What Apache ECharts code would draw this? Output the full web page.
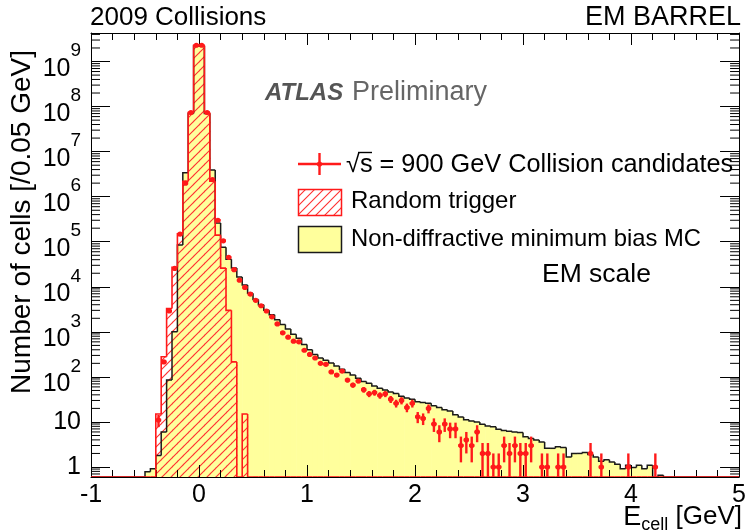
<!DOCTYPE html>
<html><head><meta charset="utf-8">
<script src="https://cdn.jsdelivr.net/npm/echarts@6/dist/echarts.min.js"></script>
<style>html,body{margin:0;padding:0;background:#fff}#chart{width:749px;height:532px}</style>
</head><body><div id="chart"></div>
<script>
// ---------------- data ----------------
const binCenters = [
  -0.475,-0.425,-0.375,-0.325,-0.275,-0.225,-0.175,-0.125,-0.075,-0.025,
  0.025,0.075,0.125,0.175,0.225,0.275,0.325,0.375,0.425,0.475,
  0.525,0.575,0.625,0.675,0.725,0.775,0.825,0.875,0.925,0.975,
  1.025,1.075,1.125,1.175,1.225,1.275,1.325,1.375,1.425,1.475,
  1.525,1.575,1.625,1.675,1.725,1.775,1.825,1.875,1.925,1.975,
  2.025,2.075,2.125,2.175,2.225,2.275,2.325,2.375,2.425,2.475,
  2.525,2.575,2.625,2.675,2.725,2.775,2.825,2.875,2.925,2.975,
  3.025,3.075,3.125,3.175,3.225,3.275,3.325,3.375,3.425,3.475,
  3.525,3.575,3.625,3.675,3.725,3.775,3.825,3.875,3.925,3.975,
  4.025,4.075,4.125,4.175,4.225,4.275,4.325
];
// Non-diffractive minimum bias MC
const mcCounts = [
  0.78,0.92,1.8,6,85,1000,85000,3.4e6,7.0e7,2.2e9,
  2.2e9,7.0e7,3.9e6,2.6e5,7.5e4,4.1e4,2.6e4,1.66e4,1.1e4,7200,
  5200,4000,3000,2400,1860,1450,1150,890,720,525,
  400,316,263,234,204,174,148,126,110,93,
  79,72,63,56,51,46,43,37,34,32,
  28,27,26,23,21,18.6,17.4,14.5,12.9,11.2,
  10.5,10,8.9,8.1,7.8,6.9,6.5,6.2,6.0,5.8,
  4.7,4.3,4.0,3.6,2.6,2.6,2.8,2.7,1.66,2.0,
  2.0,2.1,1.9,1.66,1.35,1.45,1.29,1.15,0.91,1.1,
  0.98,1.1,0.91,1.1,0,0.66,0
];
// Random trigger (bins beyond the list are empty)
const rtCounts = [
  0,0,15,280,3300,27000,1.5e5,2.2e6,7.4e7,2.3e9,
  2.3e9,7.4e7,2.2e6,1.4e5,2.6e4,3000,215,0,15,0
];
// sqrt(s) = 900 GeV collision candidates
const dataCounts = [
  0,0,11,215,2900,25600,1.48e5,2.0e6,7.4e7,2.3e9,
  2.3e9,7.4e7,2.4e6,3.0e5,1.05e5,4.5e4,2.4e4,1.4e4,9700,6900,
  5000,3800,2900,2150,1500,950,760,620,600,390,
  316,263,200,190,129,110,135,85,66,81,
  52,42,45,39,42,32,26,30,21,26,
  13,12,20,9,6,9,7,7,3,4,
  3,6,2,2,1,1,3,2,3,2,
  2,3,0,1,1,0,1,1,0,0,
  0,0,2,0,1,0,0,0,0,1,
  0,0,0,0,1,0,0
];
const xTickLabels = ['-1','0','1','2','3','4','5'];
const yDecades = [0,1,2,3,4,5,6,7,8,9];

// ---------------- chart ----------------
const X_MIN = -1, X_MAX = 5, Y_MIN = 0.6, Y_MAX = 4.3e9, BIN_W = 0.05;
const FONT = '"Liberation Sans", Arial, Helvetica, sans-serif';
const RED = '#ff1a1a', YELLOW = '#ffff9c';

const yMinorTicks = [];
for (let n = -1; n <= 9; n++) for (let k = 2; k <= 9; k++) {
  const v = k * Math.pow(10, n);
  if (v > Y_MIN && v < Y_MAX) yMinorTicks.push(v);
}

function makeHatch() {
  const s = 9, c = document.createElement('canvas');
  c.width = s; c.height = s;
  const g = c.getContext('2d');
  g.strokeStyle = '#ff3030'; g.lineWidth = 1.1;
  g.beginPath();
  g.moveTo(0, s); g.lineTo(s, 0);
  g.moveTo(-2, 2); g.lineTo(2, -2);
  g.moveTo(s - 2, s + 2); g.lineTo(s + 2, s - 2);
  g.stroke();
  return c;
}
const hatch = { image: makeHatch(), repeat: 'repeat' };

function yPix(api, v) { return api.coord([0, v > Y_MIN ? v : Y_MIN])[1]; }
function xPix(api, x) { return api.coord([x, 1])[0]; }

function fillSeries(name, counts, fill, z) {
  return {
    type: 'custom', name, z, clip: true, silent: true,
    data: binCenters.map((c, i) => [c, counts[i] || 0]),
    renderItem(params, api) {
      const c = api.value(0), v = api.value(1);
      if (!(v > 0)) return null;
      const x0 = xPix(api, c - BIN_W / 2), x1 = xPix(api, c + BIN_W / 2);
      const yt = yPix(api, v), yb = yPix(api, Y_MIN);
      return { type: 'rect', shape: { x: x0, y: yt, width: x1 - x0 + 0.6, height: yb - yt },
               style: { fill: fill, stroke: null } };
    }
  };
}

function outlineSeries(name, counts, color, width, z) {
  const last = binCenters.length - 1;
  return {
    type: 'custom', name, z, clip: true, silent: true,
    data: binCenters.map((c, i) => [c, counts[i] || 0, i > 0 ? (counts[i - 1] || 0) : 0, i]),
    renderItem(params, api) {
      const c = api.value(0), v = api.value(1), pv = api.value(2), i = api.value(3);
      const x0 = xPix(api, c - BIN_W / 2), x1 = xPix(api, c + BIN_W / 2);
      const yb = yPix(api, Y_MIN);
      const y = v > 0 ? yPix(api, v) : yb, yp = pv > 0 ? yPix(api, pv) : yb;
      const pts = [[x0, yp], [x0, y], [x1, y]];
      if (i === last) pts.push([x1, yb], [xPix(api, X_MAX), yb]);
      if (i === 0) pts.unshift([xPix(api, X_MIN), yb]);
      return { type: 'polyline', shape: { points: pts },
               style: { stroke: color, lineWidth: width, fill: null, lineJoin: 'miter' } };
    }
  };
}

const dataSeries = {
  type: 'custom', name: 'data', z: 12, clip: true, silent: true,
  data: binCenters.map((c, i) => [c, dataCounts[i]]),
  renderItem(params, api) {
    const c = api.value(0), n = api.value(1);
    if (!(n > 0)) return null;
    const e = Math.sqrt(n);
    const x = xPix(api, c), y = yPix(api, n);
    const xl = xPix(api, c - BIN_W / 2), xr = xPix(api, c + BIN_W / 2);
    const yh = yPix(api, n + e), yl = (n - e) > Y_MIN ? yPix(api, n - e) : yPix(api, Y_MIN);
    return { type: 'group', children: [
      { type: 'line', shape: { x1: x, y1: yh, x2: x, y2: yl }, style: { stroke: RED, lineWidth: 2.4 } },
      { type: 'line', shape: { x1: xl, y1: y, x2: xr, y2: y }, style: { stroke: RED, lineWidth: 2.6 } },
      { type: 'circle', shape: { cx: x, cy: y, r: 2.6 }, style: { fill: RED } }
    ] };
  }
};

const minorTickSeries = {
  type: 'custom', name: 'ylogticks', z: 10, silent: true, clip: false,
  data: yMinorTicks.map(v => [X_MIN, v]),
  renderItem(params, api) {
    const v = api.value(1);
    const y = api.coord([X_MIN, v])[1];
    const xl = xPix(api, X_MIN), xr = xPix(api, X_MAX);
    return { type: 'group', children: [
      { type: 'line', shape: { x1: xl, y1: y, x2: xl + 9, y2: y }, style: { stroke: '#000', lineWidth: 1 } },
      { type: 'line', shape: { x1: xr - 9, y1: y, x2: xr, y2: y }, style: { stroke: '#000', lineWidth: 1 } }
    ] };
  }
};

function yLabel(value) {
  const l = Math.log10(value), e = Math.round(l);
  if (Math.abs(l - e) > 1e-6 || yDecades.indexOf(e) < 0) return '';
  if (e === 0) return '1';
  if (e === 1) return '10';
  return '{b|10}{s|' + e + '}';
}

const axisLine = { show: true, onZero: false, lineStyle: { color: '#000', width: 1 } };
const xAxisCommon = {
  type: 'value', min: X_MIN, max: X_MAX, interval: 1, z: 10,
  axisLine, splitLine: { show: false },
  axisTick: { show: true, inside: true, length: 12, lineStyle: { color: '#000' } },
  minorTick: { show: true, splitNumber: 5, length: 7, lineStyle: { color: '#000' } }
};
const yAxisCommon = {
  type: 'log', logBase: 10, min: Y_MIN, max: Y_MAX, z: 10,
  axisLine, splitLine: { show: false },
  axisTick: { show: true, inside: true, length: 19, lineStyle: { color: '#000' } },
  minorTick: { show: false }
};

function txt(x, y, text, font, fill, align, extra) {
  return Object.assign({ type: 'text', x, y, style: { text, font: font, fill: fill || '#000',
    align: align || 'left', verticalAlign: 'middle', textAlign: align || 'left', textVerticalAlign: 'middle' } }, extra || {});
}

const chart = echarts.init(document.getElementById('chart'), null, { renderer: 'canvas' });
chart.setOption({
  animation: false,
  backgroundColor: '#fff',
  grid: { left: 91, right: 7, top: 33, bottom: 55 },
  xAxis: [
    Object.assign({}, xAxisCommon, { position: 'bottom',
      axisLabel: { show: true, margin: 6, fontSize: 25, fontFamily: FONT, color: '#000',
        formatter: v => xTickLabels[Math.round(v) - X_MIN] } }),
    Object.assign({}, xAxisCommon, { position: 'top', axisLabel: { show: false } })
  ],
  yAxis: [
    Object.assign({}, yAxisCommon, { position: 'left',
      axisLabel: { show: true, margin: 10, fontSize: 25, fontFamily: FONT, color: '#000',
        formatter: yLabel,
        rich: { b: { fontSize: 25, fontFamily: FONT, color: '#000', lineHeight: 40, verticalAlign: 'bottom' },
                s: { fontSize: 19, fontFamily: FONT, color: '#000', lineHeight: 14, verticalAlign: 'top' } } } }),
    Object.assign({}, yAxisCommon, { position: 'right', axisLabel: { show: false } })
  ],
  series: [
    fillSeries('Non-diffractive minimum bias MC', mcCounts, YELLOW, 2),
    fillSeries('Random trigger', rtCounts, hatch, 3),
    outlineSeries('MC outline', mcCounts, '#1a1a1a', 1.5, 4),
    outlineSeries('RT outline', rtCounts, RED, 1.6, 11),
    dataSeries,
    minorTickSeries
  ],
  graphic: [
    txt(90, 18, '2009 Collisions', '26px ' + FONT),
    txt(741, 18, 'EM BARREL', '27px ' + FONT, '#000', 'right'),
    txt(265, 93, 'ATLAS', 'italic bold 24px ' + FONT, '#555'),
    txt(352, 93, 'Preliminary', '27px ' + FONT, '#666'),
    txt(22, 222, 'Number of cells [/0.05 GeV]', '28px ' + FONT, '#000', 'center', { rotation: Math.PI / 2 }),
    { type: 'text', x: 742, y: 519, style: { text: '{e|E}{c|cell}{g| [GeV]}', align: 'right', verticalAlign: 'middle', textAlign: 'right', textVerticalAlign: 'middle',
        rich: { e: { fontSize: 27, fontFamily: FONT, color: '#000', lineHeight: 30, verticalAlign: 'top' },
                c: { fontSize: 18, fontFamily: FONT, color: '#000', lineHeight: 20, verticalAlign: 'bottom' },
                g: { fontSize: 26, fontFamily: FONT, color: '#000', lineHeight: 30, verticalAlign: 'top' } } } },
    // legend
    { type: 'line', shape: { x1: 298, y1: 164, x2: 341, y2: 164 }, style: { stroke: RED, lineWidth: 2.4 } },
    { type: 'line', shape: { x1: 319.5, y1: 153, x2: 319.5, y2: 175 }, style: { stroke: RED, lineWidth: 2.4 } },
    { type: 'circle', shape: { cx: 319.5, cy: 164, r: 2.6 }, style: { fill: RED } },
    txt(346, 165, '√s = 900 GeV Collision candidates', '25.3px ' + FONT),
    { type: 'line', shape: { x1: 358, y1: 152.5, x2: 372, y2: 152.5 }, style: { stroke: '#000', lineWidth: 1.4 } },
    { type: 'rect', shape: { x: 298.5, y: 189.5, width: 43, height: 26 }, style: { fill: hatch, stroke: RED, lineWidth: 1.5 } },
    txt(351, 201, 'Random trigger', '24px ' + FONT),
    { type: 'rect', shape: { x: 298.5, y: 226.5, width: 43, height: 26 }, style: { fill: YELLOW, stroke: '#1a1a1a', lineWidth: 1.5 } },
    txt(351, 239, 'Non-diffractive minimum bias MC', '23.8px ' + FONT),
    txt(542, 275, 'EM scale', '26.5px ' + FONT)
  ]
});
</script>
</body></html>
